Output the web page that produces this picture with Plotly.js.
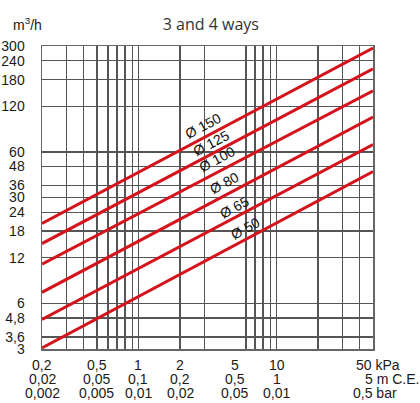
<!DOCTYPE html>
<html>
<head>
<meta charset="utf-8">
<script src="https://cdn.plot.ly/plotly-3.0.1.min.js"></script>
<style>html,body{margin:0;padding:0;background:#fff;}#chart{width:420px;height:403px;}</style>
</head>
<body>
<div id="chart"></div>
<script>
// ---- data ----
const pressureEnds = [0.2, 50];                       // kPa, left and right plot edges
const diameters = ['Ø 150', 'Ø 125', 'Ø 100', 'Ø 80', 'Ø 65', 'Ø 50'];
const flowAtLow  = [20.2, 14.9, 10.9, 7.1, 4.7, 3.05]; // m3/h at 0.2 kPa
const flowAtHigh = [291, 212, 152, 102, 67, 44.5];     // m3/h at 50 kPa

const yTickVals = [3, 3.6, 4.8, 6, 12, 18, 24, 30, 36, 48, 60, 120, 180, 240, 300];
const yTickText = ['3', '3,6', '4,8', '6', '12', '18', '24', '30', '36', '48', '60', '120', '180', '240', '300'];

const xGridVals = [0.2, 0.3, 0.4, 0.5, 0.6, 0.7, 0.8, 0.9, 1, 2, 3, 6, 7, 8, 9, 10, 20, 30, 40, 50];
const xLabelVals = [0.2, 0.5, 1, 2, 5, 10, 50];
const xLabelKpa = ['0,2', '0,5', '1', '2', '5', '10', '50 kPa'];
const xLabelMce = ['0,02', '0,05', '0,1', '0,2', '0,5', '1', '5 m C.E.'];
const xLabelBar = ['0,002', '0,005', '0,01', '0,02', '0,05', '0,01', '0,5 bar'];

// ---- styling / layout ----
const labelFam = 'Liberation Sans, Arial, sans-serif';
const tickFont = {family: labelFam, size: 14, color: '#1a1a1a'};
const labelPos = [[0.486, 0.736], [0.511, 0.680], [0.529, 0.627], [0.550, 0.548], [0.583, 0.469], [0.616, 0.399]];
const rowY = [-0.053, -0.099, -0.145];
const rowLastShift = [5, 19, 2];

const traces = diameters.map((d, i) => ({
  type: 'scatter', mode: 'lines', name: d,
  x: pressureEnds, y: [flowAtLow[i], flowAtHigh[i]],
  line: {color: '#d4131c', width: 3},
  hoverinfo: 'skip', showlegend: false
}));

const annotations = diameters.map((d, i) => ({
  xref: 'paper', yref: 'paper', x: labelPos[i][0], y: labelPos[i][1],
  xanchor: 'center', yanchor: 'middle',
  text: d, showarrow: false, textangle: -28,
  font: {family: labelFam, size: 14, color: '#111'}
}));
[xLabelKpa, xLabelMce, xLabelBar].forEach((row, r) => {
  row.forEach((t, j) => {
    annotations.push({
      xref: 'x', yref: 'paper', x: Math.log10(xLabelVals[j]), y: rowY[r],
      xanchor: 'center', yanchor: 'middle', showarrow: false,
      xshift: j === row.length - 1 ? rowLastShift[r] : 0,
      text: t, font: tickFont
    });
  });
});
annotations.push({
  xref: 'paper', yref: 'paper', x: -0.045, y: 1.035, xanchor: 'center', yanchor: 'bottom',
  text: 'm<sup>3</sup>/h', showarrow: false, font: tickFont
});

const layout = {
  width: 420, height: 403,
  margin: {l: 42, r: 47, t: 46, b: 54},
  paper_bgcolor: '#fff', plot_bgcolor: '#fff',
  title: {text: '3 and 4 ways', x: 0.502, y: 0.94, xref: 'container', yref: 'container',
          xanchor: 'center', yanchor: 'middle',
          font: {family: 'Open Sans, Noto Sans, sans-serif', size: 16, color: '#333'}},
  xaxis: {
    type: 'log', range: [Math.log10(0.2), Math.log10(50)], tickmode: 'array', tickvals: xGridVals,
    showticklabels: false, ticks: '', showgrid: true, gridcolor: '#555', gridwidth: 1.3,
    showline: true, mirror: true, linecolor: '#666', linewidth: 1.5, zeroline: false, fixedrange: true
  },
  yaxis: {
    type: 'log', range: [Math.log10(3), Math.log10(300)], tickmode: 'array',
    tickvals: yTickVals, ticktext: yTickText, tickfont: tickFont, ticks: '',
    ticklabelstandoff: 13,
    showgrid: true, gridcolor: '#555', gridwidth: 1.3,
    showline: true, mirror: true, linecolor: '#666', linewidth: 1.5, zeroline: false, fixedrange: true
  },
  annotations: annotations,
  showlegend: false
};

Plotly.newPlot('chart', traces, layout, {staticPlot: true, displayModeBar: false});
</script>
</body>
</html>
